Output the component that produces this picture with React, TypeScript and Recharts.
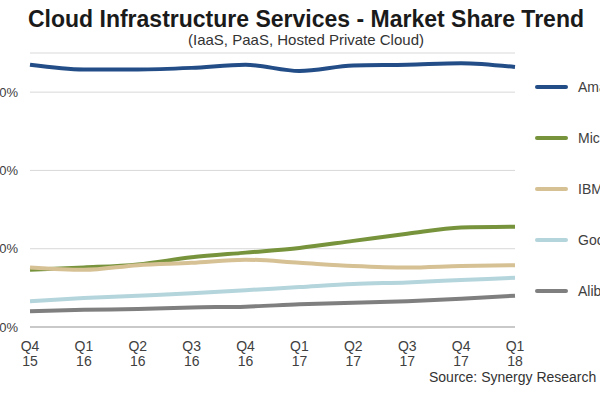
import { LineChart, Line, XAxis, YAxis, CartesianGrid, Legend } from "recharts"

// Market share per quarter, in %
const quarters = ["Q4 15", "Q1 16", "Q2 16", "Q3 16", "Q4 16", "Q1 17", "Q2 17", "Q3 17", "Q4 17", "Q1 18"]
const amazon = [33.5, 32.9, 32.9, 33.1, 33.5, 32.7, 33.4, 33.5, 33.7, 33.2]
const microsoft = [7.3, 7.6, 8.0, 8.9, 9.5, 10.1, 11.0, 11.9, 12.7, 12.8]
const ibm = [7.6, 7.3, 7.9, 8.2, 8.6, 8.2, 7.8, 7.6, 7.8, 7.9]
const google = [3.3, 3.7, 4.0, 4.3, 4.7, 5.1, 5.5, 5.7, 6.0, 6.3]
const alibaba = [2.0, 2.2, 2.3, 2.5, 2.6, 2.9, 3.1, 3.3, 3.6, 4.0]
const yTicks = [0, 10, 20, 30]

const series = [
  { key: "amazon", name: "Amazon", color: "#224d87" },
  { key: "microsoft", name: "Microsoft", color: "#77933c" },
  { key: "ibm", name: "IBM", color: "#d6c195" },
  { key: "google", name: "Google", color: "#b4d5dc" },
  { key: "alibaba", name: "Alibaba", color: "#7f7f7f" },
]

const data = quarters.map((q, i) => ({
  quarter: q,
  amazon: amazon[i],
  microsoft: microsoft[i],
  ibm: ibm[i],
  google: google[i],
  alibaba: alibaba[i],
}))

const FONT = "'Liberation Sans', Arial, sans-serif"

// two-line quarter label ("Q4" / "15")
const QuarterTick = ({ x, y, payload }: any) => {
  const [q, yr] = String(payload.value).split(" ")
  return (
    <text x={x} y={y} textAnchor="middle" fontSize={14} fill="#404040" fontFamily={FONT}>
      <tspan x={x} dy={24}>{q}</tspan>
      <tspan x={x} dy={14.5}>{yr}</tspan>
    </text>
  )
}

// legend keeps the series order (Recharts sorts by name otherwise)
const SideLegend = ({ payload }: any) => {
  const items = [...(payload || [])].sort(
    (a: any, b: any) =>
      series.findIndex((s) => s.name === a.value) - series.findIndex((s) => s.name === b.value)
  )
  return (
    <div style={{ fontFamily: FONT }}>
      {items.map((entry: any) => (
        <div key={entry.value} style={{ display: "flex", alignItems: "center", height: 51, whiteSpace: "nowrap" }}>
          <span style={{ display: "inline-block", width: 33, height: 4, borderRadius: 2, background: entry.color, marginRight: 10 }} />
          <span style={{ fontSize: 14, color: "#404040" }}>{entry.value}</span>
        </div>
      ))}
    </div>
  )
}

export default function App() {
  return (
    <div style={{ position: "absolute", left: 0, top: 0, width: 600, height: 400, overflow: "hidden", background: "#fff", fontFamily: FONT }}>
      <div style={{ position: "absolute", left: 0, top: 6, width: 612, textAlign: "center", fontSize: 23, lineHeight: "26px", fontWeight: "bold", color: "#1a1a1a", whiteSpace: "nowrap" }}>
        Cloud Infrastructure Services - Market Share Trend
      </div>
      <div style={{ position: "absolute", left: 0, top: 31, width: 612, textAlign: "center", fontSize: 15, lineHeight: "18px", color: "#333", whiteSpace: "nowrap" }}>
        (IaaS, PaaS, Hosted Private Cloud)
      </div>
      <LineChart width={600} height={400} data={data} margin={{ top: 53, right: 85, bottom: 0, left: 0 }}>
        <CartesianGrid vertical={false} stroke="#d9d9d9" />
        <XAxis
          dataKey="quarter"
          height={73}
          tick={<QuarterTick />}
          tickLine={false}
          tickSize={0}
          tickMargin={0}
          axisLine={{ stroke: "#a6a6a6" }}
          interval={0}
        />
        <YAxis
          width={30}
          domain={[0, 35]}
          ticks={yTicks}
          tickFormatter={(v) => `${v}%`}
          axisLine={false}
          tickLine={false}
          tickSize={0}
          tickMargin={12}
          tick={{ fontSize: 13, fill: "#404040", fontFamily: FONT }}
        />
        <Legend
          layout="vertical"
          align="center"
          verticalAlign="middle"
          content={<SideLegend />}
          wrapperStyle={{ left: 535, top: 61, width: 120 }}
        />
        {series.map((s) => (
          <Line
            key={s.key}
            type="monotone"
            dataKey={s.key}
            name={s.name}
            stroke={s.color}
            strokeWidth={4}
            dot={false}
            isAnimationActive={false}
          />
        ))}
      </LineChart>
      <div style={{ position: "absolute", left: 429, top: 369, fontSize: 14, lineHeight: "16px", color: "#333", whiteSpace: "nowrap" }}>
        Source: Synergy Research Group
      </div>
    </div>
  )
}
